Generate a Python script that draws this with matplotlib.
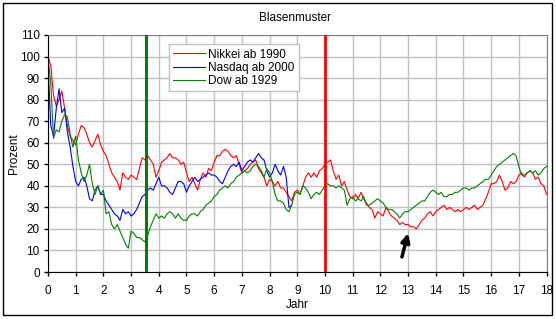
import numpy as np
import matplotlib
matplotlib.use("Agg")
import matplotlib.pyplot as plt
from matplotlib.patches import Rectangle

# ─────────────────────────────
# Data (step 0.1 Jahr)
# ─────────────────────────────
nikkei = [
    100, 96, 82, 77, 80, 84, 76, 68, 63, 61,   # 0.0 - 0.9
    59, 64, 68, 67, 64, 60, 58, 61, 64, 59,    # 1.0 - 1.9
    56, 54, 50, 46, 44, 42, 38, 46, 44, 43,    # 2.0 - 2.9
    45, 44, 43, 48, 53, 52, 54, 52, 50, 44,    # 3.0 - 3.9
    47, 51, 52, 53, 55, 53, 53, 52, 50, 51,    # 4.0 - 4.9
    46, 42, 44, 41, 38, 43, 46, 44, 48, 47,    # 5.0 - 5.9
    51, 54, 54, 56, 57, 56, 54, 53, 54, 50,    # 6.0 - 6.9
    46, 47, 48, 50, 51, 52, 48, 46, 44, 40,    # 7.0 - 7.9
    43, 42, 40, 42, 39, 39, 37, 35, 33, 37,    # 8.0 - 8.9
    38, 36, 40, 44, 46, 44, 46, 44, 47, 48,    # 9.0 - 9.9
    50, 51, 52, 47, 43, 45, 40, 42, 38, 35,    # 10.0 - 10.9
    34, 36, 34, 37, 34, 32, 30, 29, 25, 28,    # 11.0 - 11.9
    27, 26, 30, 28, 26, 25, 24, 22, 23, 22,    # 12.0 - 12.9
    22, 21, 21, 20, 22, 24, 25, 27, 28, 26,    # 13.0 - 13.9
    28, 29, 30, 31, 29, 30, 29, 28, 29, 28,    # 14.0 - 14.9
    29, 30, 29, 30, 31, 29, 30, 31, 34, 37,    # 15.0 - 15.9
    41, 41, 42, 45, 42, 38, 39, 42, 41, 42,    # 16.0 - 16.9
    45, 46, 44, 46, 47, 46, 43, 44, 41, 40,    # 17.0 - 17.9
    36,                                        # 18.0
]

nasdaq = [
    97, 68, 63, 76, 85, 74, 76, 65, 58, 49,    # 0.0 - 0.9
    42, 40, 43, 44, 40, 34, 33, 38, 40, 36,    # 1.0 - 1.9
    36, 33, 31, 29, 27, 26, 24, 29, 27, 28,    # 2.0 - 2.9
    26, 27, 29, 32, 35, 36, 38, 39, 38, 41,    # 3.0 - 3.9
    44, 40, 40, 39, 37, 36, 39, 42, 42, 41,    # 4.0 - 4.9
    37, 40, 42, 44, 42, 43, 44, 45, 46, 45,    # 5.0 - 5.9
    45, 44, 42, 41, 44, 47, 49, 50, 49, 51,    # 6.0 - 6.9
    47, 49, 51, 52, 51, 53, 55, 53, 52, 47,    # 7.0 - 7.9
    44, 46, 50, 47, 45, 49, 44, 30, 31,        # 8.0 - 8.8
]

dow = [
    99, 88, 62, 66, 65, 70, 73, 72, 64, 58,    # 0.0 - 0.9
    63, 52, 46, 42, 45, 50, 41, 36, 40, 36,    # 1.0 - 1.9
    38, 27, 28, 22, 20, 22, 19, 16, 13, 11,    # 2.0 - 2.9
    19, 18, 16, 16, 15, 14, 17, 21, 24, 27,    # 3.0 - 3.9
    25, 26, 25, 27, 28, 27, 25, 27, 25, 24,    # 4.0 - 4.9
    24, 26, 27, 27, 26, 28, 29, 31, 32, 33,    # 5.0 - 5.9
    35, 36, 38, 39, 40, 39, 41, 42, 44, 45,    # 6.0 - 6.9
    46, 47, 46, 47, 49, 50, 49, 47, 44, 48,    # 7.0 - 7.9
    46, 42, 36, 33, 33, 32, 29, 28, 31, 36,    # 8.0 - 8.9
    37, 36, 40, 39, 37, 34, 36, 37, 36, 38,    # 9.0 - 9.9
    40, 41, 40, 40, 39, 40, 39, 38, 31, 34,    # 10.0 - 10.9
    35, 33, 34, 33, 35, 31, 31, 32, 33, 34,    # 11.0 - 11.9
    33, 32, 30, 29, 29, 28, 27, 25, 27, 28,    # 12.0 - 12.9
    28, 29, 30, 31, 32, 33, 33, 35, 37, 38,    # 13.0 - 13.9
    37, 36, 37, 35, 35, 36, 36, 37, 37, 38,    # 14.0 - 14.9
    39, 39, 38, 39, 39, 40, 41, 42, 43, 43,    # 15.0 - 15.9
    45, 47, 49, 50, 51, 52, 53, 54, 55, 54,    # 16.0 - 16.9
    49, 45, 45, 46, 47, 46, 47, 45, 46, 48,    # 17.0 - 17.9
    49,                                        # 18.0
]

labels = ["Nikkei ab 1990", "Nasdaq ab 2000", "Dow ab 1929"]
colors = ["#ff0000", "#0000ff", "#008000"]

# marker lines (Jahr)
dow_marker = 3.55
nikkei_marker = 10.0

# arrow: tail -> tip (Jahr, Prozent)
arrow_tail = (12.78, 7)
arrow_tip = (13.0, 18)

# ─────────────────────────────
# Plot
# ─────────────────────────────
plt.rcParams["font.family"] = ["Liberation Sans", "DejaVu Sans"]

fig = plt.figure(figsize=(5.56, 3.19), dpi=100)
ax = fig.add_axes([0.0863, 0.1473, 0.8967, 0.743])

for values, label, color in zip([nikkei, nasdaq, dow], labels, colors):
    years = np.arange(len(values)) * 0.1
    ax.plot(years, values, color=color, lw=0.8, label=label)

ax.axvline(dow_marker, ymin=0, ymax=1, color="#008000", lw=2.2, zorder=4)
ax.axvline(nikkei_marker, ymin=0.005, ymax=1, color="#ff0000", lw=2.0, zorder=4)

ax.annotate(
    "",
    xy=arrow_tip,
    xytext=arrow_tail,
    arrowprops=dict(arrowstyle="-|>,head_length=0.5,head_width=0.25",
                    color="black", lw=2.5, shrinkA=0, shrinkB=0),
    zorder=5,
)

ax.set_xlim(0, 18)
ax.set_ylim(0, 110)
ax.set_xticks(range(0, 19))
ax.set_yticks(range(0, 111, 10))
ax.grid(True, color="#c0c0c0", lw=1)
ax.set_axisbelow(True)
ax.tick_params(labelsize=8.5, length=3, width=1, direction="out")
ax.tick_params(axis="x", pad=6)
ax.tick_params(axis="y", pad=3)

for side in ["top", "right"]:
    ax.spines[side].set_color("#808080")
for side in ["left", "bottom"]:
    ax.spines[side].set_color("black")

ax.set_xlabel("Jahr", fontsize=8.5, labelpad=2)
ax.set_ylabel("Prozent", fontsize=8.5, labelpad=0)
fig.text(0.531, 0.943, "Blasenmuster", ha="center", va="center", fontsize=8.5)

leg = ax.legend(
    loc="upper left",
    bbox_to_anchor=(0.23, 0.985),
    fontsize=8.5,
    fancybox=False,
    framealpha=1,
    edgecolor="#c0c0c0",
    handlelength=2.7,
    handletextpad=0.3,
    labelspacing=0.1,
    borderpad=0.35,
)
leg.get_frame().set_linewidth(1)
leg.set_zorder(6)

# outer frame around the whole chart
fig.patches.append(Rectangle((0.006, 0.012), 0.987, 0.978, transform=fig.transFigure,
                             fill=False, edgecolor="black", lw=1))

plt.savefig("out.png", dpi=100)
plt.close()
